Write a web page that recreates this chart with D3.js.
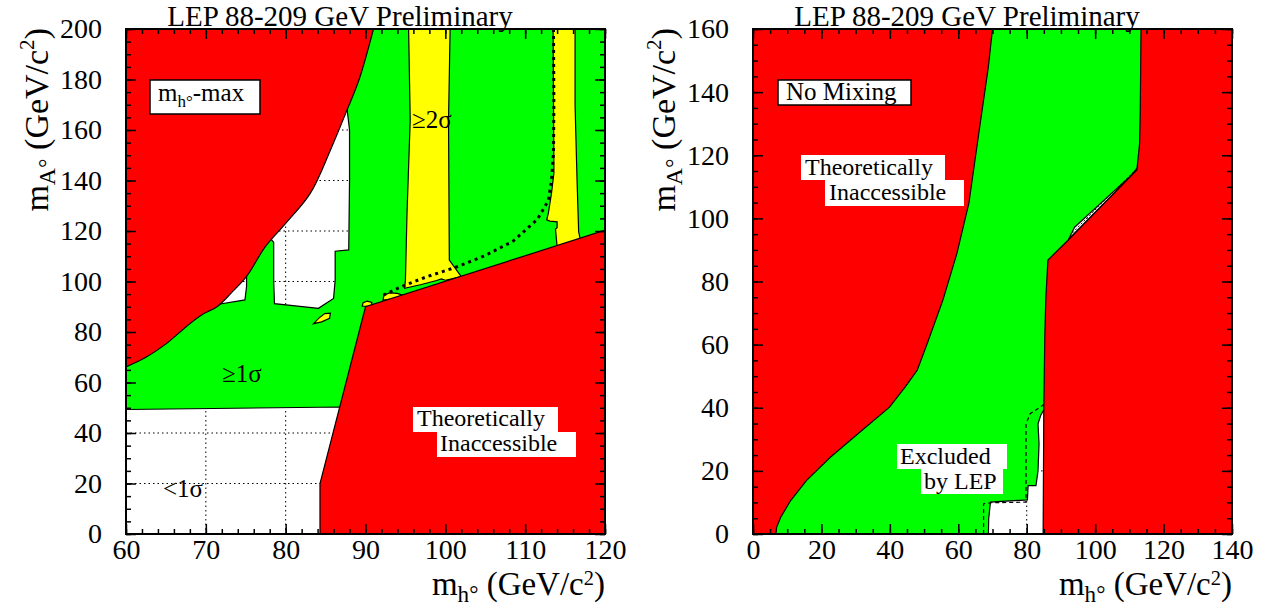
<!DOCTYPE html>
<html><head><meta charset="utf-8">
<script src="https://cdn.jsdelivr.net/npm/d3@7"></script>
<style>
html,body{margin:0;padding:0;background:#fff;}
text{font-family:"Liberation Serif","Times New Roman",serif;fill:#000;}
</style></head>
<body>
<svg id="c" width="1261" height="608"></svg>
<script>
// ---------------- DATA ----------------
const titleText = "LEP 88-209 GeV Preliminary";
// Left panel (m_h-max) axis ticks
const lXTicks = [60,70,80,90,100,110,120];
const lYTicks = [0,20,40,60,80,100,120,140,160,180,200];
// Right panel (No Mixing) axis ticks
const rXTicks = [0,20,40,60,80,100,120,140];
const rYTicks = [0,20,40,60,80,100,120,140,160];

// Left panel contours [m_h, m_A]
// smooth theoretical boundary (upper-left red), closed through the top-left corner
const lRedUpperCurve = [[91,200],[89.2,180],[87.7,168],[85.6,152],[83.1,135],[80,123],[77.5,114],[75.1,102],[73.2,95.5],[71.4,90],[69.6,87],[67.5,82],[65.1,75.5],[62.5,70],[60,66.2]];
const lRedUpperCorner = [[60,200]];
const lRedLower = [[84.3,0],[84.3,20],[90,90],[120,120.3],[120,0]];
const lWhiteLow = [[60,0],[60,49.3],[87,50.3],[87,0]];
const lWhiteHole1 = [[78.5,115.5],[76,125],[80,140],[84,168],[87.7,168],[88.0,160],[88.0,140],[87.9,112.5],[86.2,112],[86.2,100.6],[86.0,93.3],[84.1,89.4],[78.6,91.2],[78.5,100]];
const lWhiteHole2 = [[70.5,96],[75.1,102.6],[75.1,98],[74.9,92.7],[71.8,91.1],[70,91.5]];
const lYellowBand1 = [[95.4,200],[95.6,164],[95.2,127],[95.0,100.6],[94.9,97.3],[97,98.8],[98.9,100.4],[99.5,101.0],[100.0,100.5],[102.0,101.9],[100.5,108.5],[100.4,164],[100.6,200]];
const lYellowBand2 = [[113.5,200],[113.6,143],[113.3,135],[112.9,127],[112.7,124.4],[113.1,123.9],[114.0,123.6],[114.0,121.3],[113.8,120.8],[114.0,113.8],[116.9,116.8],[116.7,119.7],[116.5,140],[116.25,170],[116.25,200]];
const lYellowBlob1 = [[83.5,83.3],[84.2,85.6],[84.9,87.3],[85.6,87.5],[85.5,85.4],[84.5,84.0]];
const lYellowBlob2 = [[89.6,90.2],[89.7,91.6],[90.2,92.2],[90.8,91.7],[90.7,90.2]];
const lYellowBlob3 = [[92.2,92.6],[92.3,94.6],[93.0,95.5],[94.0,95.3],[94.6,94.6],[94.5,93.5]];
const lDotted = [[113.55,200],[113.6,170],[113.55,151],[113.3,140],[112.9,132],[111.5,124.5],[108.5,116],[104.8,110],[101.2,105.5],[97.6,101.8],[94.9,98.5],[92.8,95.5],[92.2,94.5]];

// Right panel contours [m_h, m_A]
const rRedLeft = [[0,0],[6.7,0],[6.9,2.1],[8.1,5.3],[11,10.6],[15.6,16.9],[22.6,24.3],[31.8,32.8],[39.9,40.2],[44.5,46.6],[48,51.9],[50.9,60.3],[55.5,74.1],[59.6,88.9],[63.1,104.8],[66,127],[68.8,148.1],[70,160],[0,160]];
const rRedRight = [[113.4,160],[113.2,135],[113,123.8],[112.2,115.3],[92,93],[86.2,86.8],[85.6,75],[85.3,63.5],[85,40.2],[84.8,0],[140,0],[140,160]];
const rWhiteLow = [[68.8,0],[68.9,5],[69.4,10.1],[80.2,10.8],[80.4,15.3],[82.7,15.3],[83.3,20],[83.6,28.6],[83.3,34.9],[84.1,37.6],[85.2,39.7],[85.2,0]];
const rWhiteSliver = [[92.2,93.3],[94.0,97.2],[95.5,98.7],[110.6,113.7],[112.3,116.0],[112.2,115.3]];
const rSliverDash = [[93.4,95.4],[95.5,97.8],[111.3,114.8]];
const rDashed = [[67.4,0],[67.4,9.6],[69.5,9.9],[79.8,10.1],[79.8,34.9],[81,38.1],[83.9,40.2],[85,41]];

// ---------------- DRAW ----------------
const svg = d3.select("#c");
const RED="#ff0000", GREEN="#00ff00", YELLOW="#ffff00";

function panel(cfg){
  const x = d3.scaleLinear(cfg.xDom,[cfg.x0,cfg.x1]);
  const y = d3.scaleLinear(cfg.yDom,[cfg.y0,cfg.y1]);
  const g = svg.append("g");
  const id = cfg.id;
  g.append("clipPath").attr("id",id+"clip").append("rect")
    .attr("x",cfg.x0).attr("y",cfg.y1).attr("width",cfg.x1-cfg.x0).attr("height",cfg.y0-cfg.y1);
  const line = d3.line().x(d=>x(d[0])).y(d=>y(d[1]));
  const smooth = d3.line().x(d=>x(d[0])).y(d=>y(d[1])).curve(d3.curveCatmullRom.alpha(0.5));
  const poly = d=>{
    if (d.curve) return smooth(d.curve) + d.corner.map(p=>"L"+x(p[0])+","+y(p[1])).join("") + "Z";
    return line(d)+"Z";
  };
  const pg = g.append("g").attr("clip-path",`url(#${id}clip)`);
  pg.append("rect").attr("x",cfg.x0).attr("y",cfg.y1).attr("width",cfg.x1-cfg.x0).attr("height",cfg.y0-cfg.y1).attr("fill",GREEN);
  cfg.white.forEach(w=>pg.append("path").attr("d",poly(w)).attr("fill","#fff").attr("stroke","#000").attr("stroke-width",1.2));
  const wc = g.append("clipPath").attr("id",id+"wclip");
  cfg.white.forEach(w=>wc.append("path").attr("d",poly(w)));
  const gg = pg.append("g").attr("clip-path",`url(#${id}wclip)`);
  cfg.xTicks.forEach(t=>gg.append("line").attr("x1",x(t)).attr("x2",x(t)).attr("y1",cfg.y0).attr("y2",cfg.y1)
     .attr("stroke","#000").attr("stroke-width",1).attr("stroke-dasharray","1.5,3"));
  cfg.yTicks.forEach(t=>gg.append("line").attr("y1",y(t)).attr("y2",y(t)).attr("x1",cfg.x0).attr("x2",cfg.x1)
     .attr("stroke","#000").attr("stroke-width",1).attr("stroke-dasharray","1.5,3"));
  (cfg.yellow||[]).forEach(w=>pg.append("path").attr("d",poly(w)).attr("fill",YELLOW).attr("stroke","#000").attr("stroke-width",1.2));
  cfg.red.forEach(w=>pg.append("path").attr("d",poly(w)).attr("fill",RED).attr("stroke","#000").attr("stroke-width",1.2));
  (cfg.lines||[]).forEach(l=>pg.append("path").attr("d",line(l.d)).attr("fill","none").attr("stroke","#000")
     .attr("stroke-width",l.w).attr("stroke-dasharray",l.dash));

  const fmt = d3.format("d");
  const ax = (gen, tr, ticks, size, labels, pad)=>{
    const a = gen.tickValues(ticks).tickSizeInner(-size).tickSizeOuter(0).tickPadding(pad||0)
      .tickFormat(labels?fmt:()=>"");
    const s = g.append("g").attr("transform",tr).call(a);
    s.select(".domain").remove();
    s.selectAll("line").attr("stroke","#000").attr("stroke-width",1.5);
    s.selectAll("text").attr("font-family","Liberation Serif, Times New Roman, serif").attr("font-size",28).attr("fill","#000");
  };
  const minorX = d3.range(cfg.xDom[0],cfg.xDom[1]+1e-9,cfg.xMinor);
  const minorY = d3.range(cfg.yDom[0],cfg.yDom[1]+1e-9,cfg.yMinor);
  ax(d3.axisBottom(x),`translate(0,${cfg.y0})`,cfg.xTicks,10,true,5);
  ax(d3.axisBottom(x),`translate(0,${cfg.y0})`,minorX,5,false);
  ax(d3.axisTop(x),`translate(0,${cfg.y1})`,cfg.xTicks,10,false);
  ax(d3.axisTop(x),`translate(0,${cfg.y1})`,minorX,5,false);
  ax(d3.axisLeft(y),`translate(${cfg.x0},0)`,cfg.yTicks,10,true,24);
  ax(d3.axisLeft(y),`translate(${cfg.x0},0)`,minorY,5,false);
  ax(d3.axisRight(y),`translate(${cfg.x1},0)`,cfg.yTicks,10,false);
  ax(d3.axisRight(y),`translate(${cfg.x1},0)`,minorY,5,false);
  g.append("rect").attr("x",cfg.x0).attr("y",cfg.y1).attr("width",cfg.x1-cfg.x0).attr("height",cfg.y0-cfg.y1)
    .attr("fill","none").attr("stroke","#000").attr("stroke-width",2);

  g.append("text").attr("x",cfg.titleX).attr("y",26).attr("text-anchor","middle").attr("font-size",29).text(titleText);
  const xt = g.append("text").attr("x",cfg.x1).attr("y",595).attr("text-anchor","end").attr("font-size",33);
  massLabel(xt,"h",33,0.3);
  const yt = g.append("text").attr("transform",`translate(${cfg.x0-78},28) rotate(-90)`).attr("text-anchor","end").attr("font-size",34);
  massLabel(yt,"A",34,0.4);
  return {g,x,y};
}

function massLabel(t,sub,fs,sup){
  t.append("tspan").text("m");
  t.append("tspan").attr("font-size",fs*0.7).attr("dy",fs*0.22).text(sub+"\u00b0");
  t.append("tspan").attr("font-size",fs).attr("dy",-fs*0.22).text(" (GeV/c");
  t.append("tspan").attr("font-size",fs*0.62).attr("dy",-fs*sup).text("2");
  t.append("tspan").attr("font-size",fs).attr("dy",fs*sup).text(")");
}

function boxText(g,x0,y0,x1,y1,border){
  g.append("rect").attr("x",x0).attr("y",y0).attr("width",x1-x0).attr("height",y1-y0)
    .attr("fill","#fff").attr("stroke",border?"#000":"none").attr("stroke-width",1.5);
}

const L = panel({id:"L",xDom:[60,120],yDom:[0,200],x0:126,x1:605,y0:534,y1:29,
  xTicks:lXTicks,yTicks:lYTicks,xMinor:2,yMinor:5,titleX:340,
  white:[lWhiteLow,lWhiteHole1,lWhiteHole2],
  yellow:[lYellowBand1,lYellowBand2,lYellowBlob1,lYellowBlob2,lYellowBlob3],
  red:[{curve:lRedUpperCurve,corner:lRedUpperCorner},lRedLower],
  lines:[{d:lDotted,w:3,dash:"3,4"}]});

const R = panel({id:"R",xDom:[0,140],yDom:[0,160],x0:753,x1:1232,y0:534,y1:29,
  xTicks:rXTicks,yTicks:rYTicks,xMinor:5,yMinor:5,titleX:967,
  white:[rWhiteLow,rWhiteSliver],
  red:[rRedLeft,rRedRight],
  lines:[{d:rDashed,w:1.2,dash:"4,3"},{d:rSliverDash,w:1,dash:"2,2"}]});

{
  const g = L.g;
  boxText(g,150,80,260,114,true);
  const t = g.append("text").attr("x",158).attr("y",101).attr("font-size",25);
  t.append("tspan").text("m");
  t.append("tspan").attr("font-size",17).attr("dy",6).text("h\u00b0");
  t.append("tspan").attr("font-size",25).attr("dy",-6).text("-max");
  g.append("text").attr("x",412).attr("y",128).attr("font-size",25).text("\u22652\u03c3");
  g.append("text").attr("x",222).attr("y",382).attr("font-size",25).text("\u22651\u03c3");
  g.append("text").attr("x",163).attr("y",497).attr("font-size",25).text("<1\u03c3");
  boxText(g,413,407,558,432,false);
  boxText(g,437,432,576,457,false);
  g.append("text").attr("x",417).attr("y",426).attr("font-size",24).text("Theoretically");
  g.append("text").attr("x",440).attr("y",451).attr("font-size",24).text("Inaccessible");
}
{
  const g = R.g;
  boxText(g,778,80,911,105,true);
  g.append("text").attr("x",786).attr("y",100).attr("font-size",25).text("No Mixing");
  boxText(g,801,155,945,180,false);
  boxText(g,825,180,964,206,false);
  g.append("text").attr("x",805).attr("y",175).attr("font-size",24).text("Theoretically");
  g.append("text").attr("x",829).attr("y",200).attr("font-size",24).text("Inaccessible");
  boxText(g,897,444,1007,469,false);
  boxText(g,921,469,1003,494,false);
  g.append("text").attr("x",900).attr("y",464).attr("font-size",24).text("Excluded");
  g.append("text").attr("x",924).attr("y",489).attr("font-size",24).text("by LEP");
}
</script>
</body></html>
